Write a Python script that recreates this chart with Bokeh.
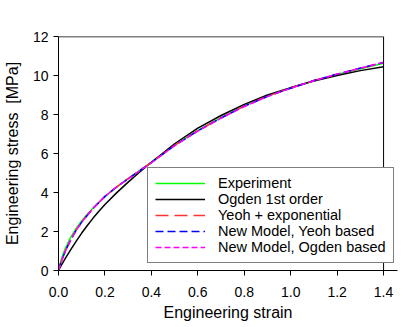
from bokeh.plotting import figure
from bokeh.models import FixedTicker, NumeralTickFormatter, Legend, LegendItem, Span
from bokeh.embed import file_html
from bokeh.resources import INLINE

strain = [0.0, 0.01, 0.02, 0.03, 0.05, 0.075, 0.1, 0.125, 0.15, 0.175, 0.2, 0.25, 0.3, 0.35, 0.4,
          0.5, 0.6, 0.7, 0.8, 0.9, 1.0, 1.1, 1.2, 1.3, 1.4]
experiment = [0.0, 0.5, 0.85, 1.15, 1.65, 2.15, 2.55, 2.9, 3.22, 3.5, 3.78, 4.27, 4.72, 5.14, 5.56,
              6.43, 7.18, 7.84, 8.44, 8.95, 9.36, 9.73, 10.05, 10.35, 10.63]
ogden1 = [0.0, 0.22, 0.43, 0.63, 1.02, 1.48, 1.92, 2.32, 2.7, 3.05, 3.38, 3.98, 4.53, 5.05, 5.55,
          6.5, 7.3, 7.95, 8.52, 9.0, 9.38, 9.72, 10.0, 10.25, 10.45]
yeoh_exp = [0.0, 0.4, 0.72, 1.02, 1.52, 2.06, 2.49, 2.86, 3.2, 3.5, 3.8, 4.28, 4.71, 5.13, 5.54,
            6.42, 7.17, 7.83, 8.43, 8.94, 9.36, 9.74, 10.07, 10.37, 10.66]
new_yeoh = [0.0, 0.39, 0.71, 1.01, 1.51, 2.05, 2.48, 2.85, 3.2, 3.5, 3.8, 4.28, 4.7, 5.12, 5.53,
            6.41, 7.16, 7.82, 8.42, 8.93, 9.35, 9.74, 10.07, 10.38, 10.67]
new_ogden = [0.0, 0.38, 0.7, 1.0, 1.5, 2.05, 2.48, 2.85, 3.2, 3.5, 3.8, 4.28, 4.7, 5.12, 5.53,
             6.4, 7.15, 7.81, 8.41, 8.92, 9.35, 9.73, 10.07, 10.38, 10.68]

x_ticks = [0.0, 0.2, 0.4, 0.6, 0.8, 1.0, 1.2, 1.4]
y_ticks = [0, 2, 4, 6, 8, 10, 12]
x_min, x_max = x_ticks[0], x_ticks[-1]
y_min, y_max = y_ticks[0], y_ticks[-1]

FONT = "Liberation Sans"

# frame extends a little past x = 1.4 (as in the reference, where the x-axis line
# and the legend run past the right edge of the box)
p = figure(width=398, height=327, x_range=(x_min, x_max + 0.06), y_range=(y_min, y_max),
           output_backend="svg", toolbar_location=None,
           min_border_left=56, min_border_right=1, min_border_top=36, min_border_bottom=57)
p.xgrid.visible = False
p.ygrid.visible = False
p.outline_line_color = None
p.background_fill_color = "white"
p.border_fill_color = "white"

for ax in (p.xaxis[0], p.yaxis[0]):
    ax.axis_line_color = "black"
    ax.axis_line_width = 1
    ax.major_tick_line_color = "black"
    ax.major_tick_out = 5
    ax.major_tick_in = 0
    ax.minor_tick_line_color = None
    ax.major_label_text_font = FONT
    ax.major_label_text_font_size = "14px"
    ax.major_label_text_color = "black"
    ax.axis_label_text_font = FONT
    ax.axis_label_text_font_size = "16px"
    ax.axis_label_text_font_style = "normal"
    ax.axis_label_text_color = "black"

p.xaxis[0].ticker = FixedTicker(ticks=x_ticks)
p.xaxis[0].formatter = NumeralTickFormatter(format="0.0")
p.yaxis[0].ticker = FixedTicker(ticks=y_ticks)
p.xaxis[0].axis_label = "Engineering strain"
p.yaxis[0].axis_label = "Engineering stress\u00a0 [MPa]"
p.xaxis[0].major_label_standoff = 11
p.yaxis[0].major_label_standoff = 5
p.xaxis[0].axis_label_standoff = 4
p.yaxis[0].axis_label_standoff = 9

# box: right edge at x = 1.4 and top edge from 0 to 1.4
p.add_layout(Span(location=x_max, dimension="height", line_color="black", line_width=1))
p.segment(x0=[x_min], y0=[y_max], x1=[x_max], y1=[y_max], line_color="black", line_width=1.5)

r1 = p.line(strain, experiment, line_color="#00ff00", line_width=1.5)
r2 = p.line(strain, ogden1, line_color="black", line_width=1.5)
r3 = p.line(strain, yeoh_exp, line_color="#ff3333", line_width=1.5, line_dash="13 6")
r4 = p.line(strain, new_yeoh, line_color="#0000ff", line_width=1.5, line_dash="8 4")
r5 = p.line(strain, new_ogden, line_color="#ff00ff", line_width=1.5, line_dash="6 3")

legend = Legend(items=[
    LegendItem(label="Experiment", renderers=[r1]),
    LegendItem(label="Ogden 1st order", renderers=[r2]),
    LegendItem(label="Yeoh + exponential", renderers=[r3]),
    LegendItem(label="New Model, Yeoh based", renderers=[r4]),
    LegendItem(label="New Model, Ogden based", renderers=[r5]),
], location=(89, 7))
legend.border_line_color = "black"
legend.border_line_width = 1
legend.background_fill_alpha = 1
legend.label_text_font = FONT
legend.label_text_font_size = "14.5px"
legend.label_text_color = "black"
legend.glyph_width = 50
legend.glyph_height = 16
legend.label_height = 16
legend.label_standoff = 13
legend.spacing = 0
legend.padding = 7
legend.margin = 0
p.add_layout(legend, "center")

open("out.html", "w").write(file_html(p, INLINE))
